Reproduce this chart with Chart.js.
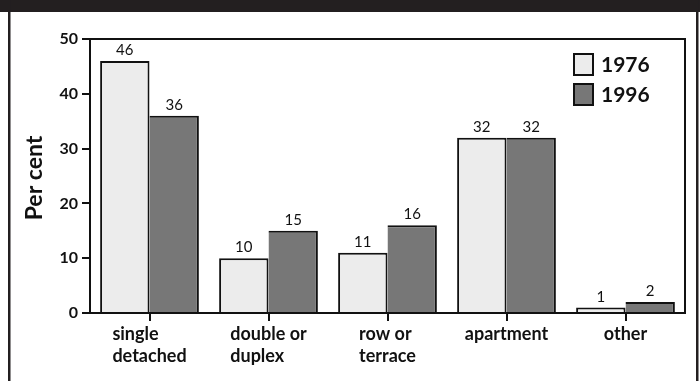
<!DOCTYPE html>
<html lang="en">
<head>
    <meta charset="UTF-8">
    <title>Dwelling types 1976 and 1996</title>
    <script src="https://cdn.jsdelivr.net/npm/chart.js"></script>
    <style>
        html, body { margin: 0; padding: 0; background: #fff; }
        #wrap { position: relative; width: 700px; height: 381px; }
    </style>
</head>
<body>
    <div id="wrap"><canvas id="dwelling-chart"></canvas></div>

    <script>
        // Dwelling type shares, per cent
        const categories = [['single', 'detached'], ['double or', 'duplex'], ['row or', 'terrace'], ['apartment'], ['other']];
        const years = ['1976', '1996'];
        const values1976 = [46, 10, 11, 32, 1];
        const values1996 = [36, 15, 16, 32, 2];
        const yTicks = [0, 10, 20, 30, 40, 50];

        const FONT = 'Lato, "Open Sans", sans-serif';
        const INK = '#111';

        // Frame, plot box, value labels, category labels, axis title and legend
        const decorations = {
            id: 'decorations',
            beforeDraw(chart) {
                const c = chart.ctx;
                c.save();
                c.fillStyle = '#231f20';
                c.fillRect(0, 0, 700, 12);
                c.fillRect(8, 0, 2.5, 381);
                c.fillRect(696, 0, 2.5, 381);
                c.restore();
            },
            afterDatasetsDraw(chart) {
                const c = chart.ctx;
                const area = chart.chartArea;
                c.save();

                // box around the plot
                c.strokeStyle = INK;
                c.lineWidth = 2;
                c.beginPath();
                c.moveTo(area.left, area.top);
                c.lineTo(area.right, area.top);
                c.lineTo(area.right, area.bottom);
                c.stroke();

                // value labels above bars
                c.fillStyle = INK;
                c.font = '15px ' + FONT;
                c.textAlign = 'center';
                c.textBaseline = 'alphabetic';
                chart.data.datasets.forEach((ds, di) => {
                    chart.getDatasetMeta(di).data.forEach((bar, i) => {
                        c.fillText(String(ds.data[i]), bar.x, bar.y - 6);
                    });
                });

                // category labels, lines left-aligned within each block
                const xs = chart.scales.x;
                c.font = 'bold 18px ' + FONT;
                c.textAlign = 'left';
                c.textBaseline = 'middle';
                categories.forEach((lines, i) => {
                    const cx = xs.getPixelForValue(i);
                    const w = Math.max(...lines.map(l => c.measureText(l).width));
                    lines.forEach((line, k) => {
                        c.fillText(line, cx - w / 2, area.bottom + 21 + k * 22);
                    });
                });

                // y axis title
                c.save();
                c.translate(35, (area.top + area.bottom) / 2 + 2);
                c.rotate(-Math.PI / 2);
                c.textAlign = 'center';
                c.font = 'bold 23px ' + FONT;
                c.fillText('Per cent', 0, 0);
                c.restore();

                // legend
                c.font = 'bold 21px ' + FONT;
                c.textAlign = 'left';
                chart.data.datasets.forEach((ds, di) => {
                    const y = 54 + di * 30;
                    c.fillStyle = ds.backgroundColor;
                    c.fillRect(574, y, 19, 21);
                    c.strokeStyle = INK;
                    c.lineWidth = 2;
                    c.strokeRect(574, y, 19, 21);
                    c.fillStyle = INK;
                    c.fillText(ds.label, 601, y + 11);
                });

                c.restore();
            }
        };

        const ctx = document.getElementById('dwelling-chart').getContext('2d');
        new Chart(ctx, {
            type: 'bar',
            data: {
                labels: categories,
                datasets: [
                    {
                        label: years[0],
                        data: values1976,
                        backgroundColor: '#ececec',
                        borderColor: INK,
                        borderWidth: { top: 2, left: 2, right: 2, bottom: 0 },
                        borderSkipped: 'start'
                    },
                    {
                        label: years[1],
                        data: values1996,
                        backgroundColor: '#777777',
                        borderColor: INK,
                        borderWidth: { top: 2, left: 0, right: 2, bottom: 0 },
                        borderSkipped: 'start'
                    }
                ]
            },
            options: {
                responsive: true,
                maintainAspectRatio: false,
                animation: false,
                categoryPercentage: 0.83,
                barPercentage: 1.0,
                layout: { padding: { top: 39, right: 15, bottom: 0, left: 0 } },
                plugins: {
                    legend: { display: false },
                    tooltip: { enabled: false }
                },
                scales: {
                    x: {
                        afterFit: scale => { scale.height = 68; },
                        ticks: { display: false },
                        grid: {
                            offset: false,
                            drawOnChartArea: false,
                            tickLength: 8,
                            color: INK,
                            lineWidth: 2
                        },
                        border: { color: INK, width: 2 }
                    },
                    y: {
                        min: 0,
                        max: 50,
                        afterFit: scale => { scale.width = 90; },
                        afterBuildTicks: scale => { scale.ticks = yTicks.map(v => ({ value: v })); },
                        ticks: {
                            color: INK,
                            padding: 4,
                            font: { family: FONT, size: 16, weight: 'bold' }
                        },
                        grid: {
                            drawOnChartArea: false,
                            tickLength: 8,
                            color: INK,
                            lineWidth: 2
                        },
                        border: { color: INK, width: 2 }
                    }
                }
            },
            plugins: [decorations]
        });
    </script>
</body>
</html>
